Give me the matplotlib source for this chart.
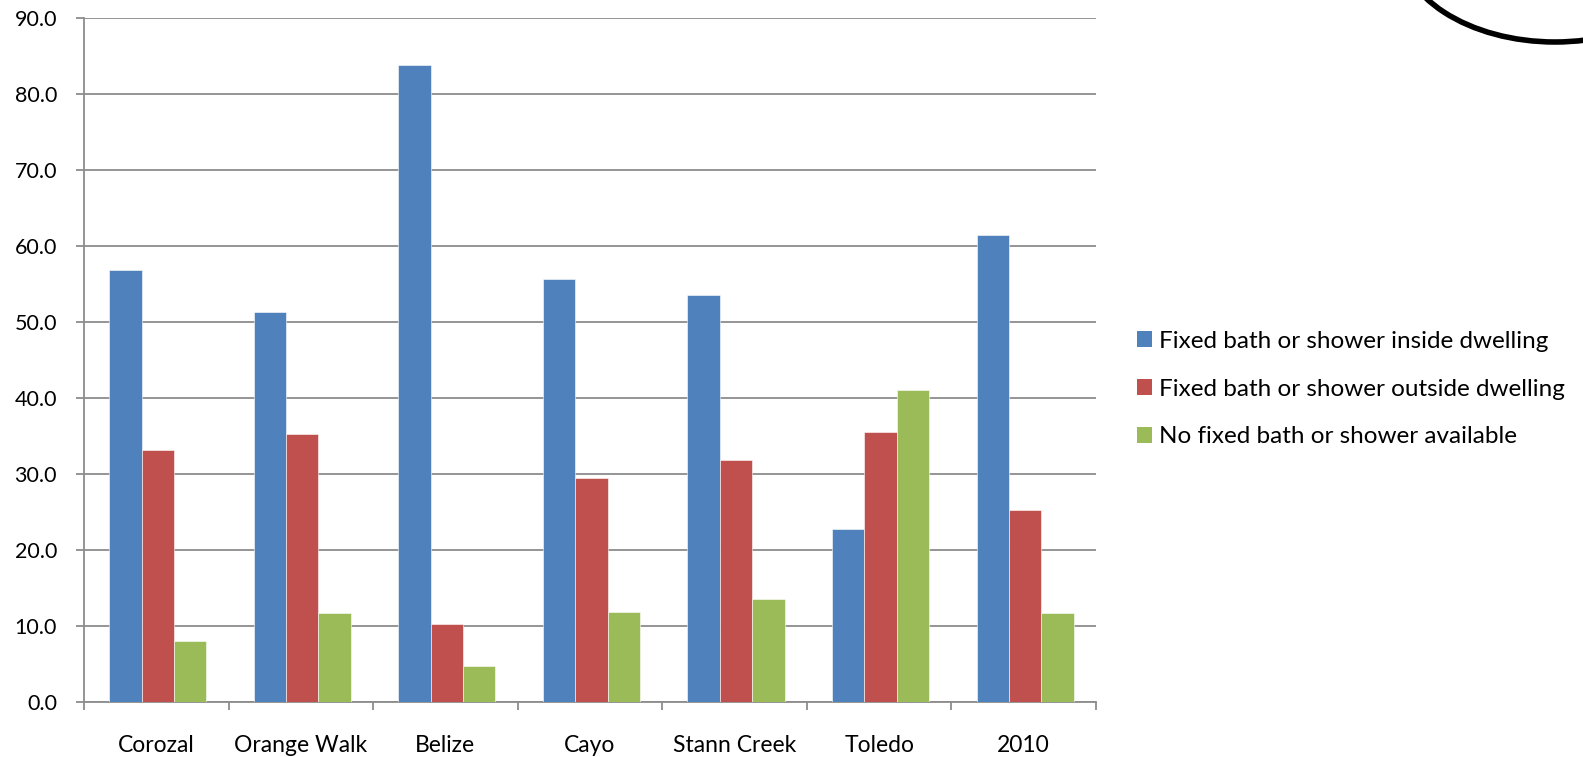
import matplotlib
matplotlib.use("Agg")
import matplotlib.pyplot as plt
import numpy as np
from matplotlib.patches import Ellipse, Patch

categories = ["Corozal", "Orange Walk", "Belize", "Cayo", "Stann Creek", "Toledo", "2010"]
inside = [56.8, 51.3, 83.8, 55.7, 53.5, 22.7, 61.5]
outside = [33.1, 35.3, 10.2, 29.5, 31.8, 35.5, 25.2]
none_avail = [8.0, 11.7, 4.8, 11.9, 13.6, 41.0, 11.7]
series_names = ["Fixed bath or shower inside dwelling",
                "Fixed bath or shower outside dwelling",
                "No fixed bath or shower available"]
colors = ["#4F81BD", "#C0504D", "#9BBB59"]
yticks = [0, 10, 20, 30, 40, 50, 60, 70, 80, 90]

plt.rcParams['font.family'] = ['Lato', 'DejaVu Sans']

W, H = 1583, 757
fig = plt.figure(figsize=(W / 100, H / 100), dpi=100)
L, R, T, B = 84, 1096, 18, 702
ax = fig.add_axes([L / W, (H - B) / H, (R - L) / W, (B - T) / H])

x = np.arange(len(categories))
bw = 0.224
for i, (vals, c) in enumerate(zip([inside, outside, none_avail], colors)):
    ax.bar(x + (i - 1) * bw + 0.01, vals, bw, color=c, edgecolor="white", linewidth=0.4,
           zorder=3, label=series_names[i])

ax.set_xlim(-0.5, len(categories) - 0.5)
ax.set_ylim(0, 90)
ax.set_yticks(yticks)
ax.set_yticklabels([f"{v:.1f}" for v in yticks], fontsize=15.5)
ax.yaxis.grid(True, color="#8c8c8c", linewidth=1.3, zorder=0)
ax.set_axisbelow(True)

ax.set_xticks(np.arange(len(categories) + 1) - 0.5)
ax.set_xticklabels([])
ax.set_xticks(x, minor=True)
ax.set_xticklabels(categories, minor=True, fontsize=16.5)
ax.tick_params(axis='x', which='minor', length=0, pad=24)
ax.tick_params(axis='x', which='major', length=5.5, width=1.3, color="#8c8c8c")
ax.tick_params(axis='y', length=5.5, width=1.3, color="#8c8c8c", pad=14)

for s in ["top", "right"]:
    ax.spines[s].set_visible(False)
for s in ["left", "bottom"]:
    ax.spines[s].set_color("#8c8c8c")
    ax.spines[s].set_linewidth(1.3)

handles = [Patch(facecolor=c, edgecolor='none') for c in colors]
fig.legend(handles, series_names, loc="center left",
           bbox_to_anchor=(1137 / W, (H - 389) / H), frameon=False, fontsize=17.5,
           handlelength=0.62, handleheight=0.62, handletextpad=0.3, labelspacing=1.1,
           borderpad=0, borderaxespad=0)

# decorative arc in the top-right corner
ov = fig.add_axes([0, 0, 1, 1], facecolor='none')
ov.set_xlim(0, W)
ov.set_ylim(H, 0)
ov.axis('off')
ov.add_patch(Ellipse((1555, -60), 2 * 157, 2 * 102, fill=False, edgecolor="black", linewidth=4))

fig.savefig("out.png", dpi=100)
